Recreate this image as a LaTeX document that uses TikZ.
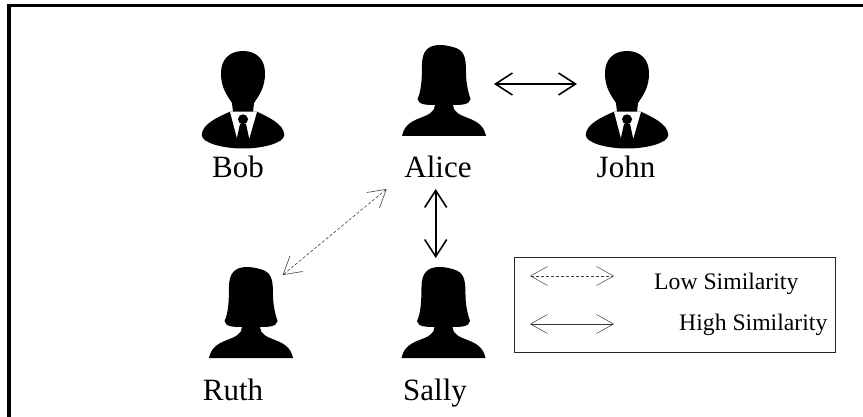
\documentclass[tikz,border=0pt]{standalone}
\usepackage{fontspec}
\setmainfont{Liberation Serif}
\usetikzlibrary{arrows.meta}

\tikzset{
  man/.pic = {
    \fill (0,-49) .. controls (14,-49) and (22,-40) .. (22,-27)
      .. controls (22,-13) and (17,-6) .. (11,3) -- (10,12) -- (-10,12) -- (-11,3)
      .. controls (-17,-6) and (-22,-13) .. (-22,-27)
      .. controls (-22,-40) and (-14,-49) .. (0,-49) -- cycle;
    \fill (-13,11.7) .. controls (-25,17) and (-41,24) .. (-41.3,35)
      .. controls (-41,43) and (-20,48.5) .. (0,48.5)
      .. controls (20,48.5) and (41,43) .. (41.3,35)
      .. controls (41,24) and (25,17) .. (14,11.7) -- cycle;
    \fill[white] (-13,11.7) -- (-5.7,39.5) -- (6,39.5) -- (14,11.7) -- cycle;
    \fill (0,19.3) circle (5);
    \fill (-3,24) -- (-6.5,40) -- (6.5,40) -- (3,24) -- cycle;
  },
  woman/.pic = {
    \fill (-42,36) -- (42,36) .. controls (40,27) and (35,22) .. (24,18)
      .. controls (16,15) and (9,12) .. (9,5)
      .. controls (16,5) and (26,5) .. (26.5,-1)
      .. controls (24,-8) and (22,-18) .. (22,-27)
      .. controls (22,-42) and (21,-50) .. (9,-53)
      .. controls (5,-54) and (1,-55) .. (-4,-55)
      .. controls (-16,-55) and (-22,-49) .. (-22,-35)
      .. controls (-22,-20) and (-23,-8) .. (-26.5,-1)
      .. controls (-26,5) and (-16,5) .. (-9,5)
      .. controls (-9,12) and (-16,15) .. (-24,18)
      .. controls (-35,22) and (-40,27) .. (-42,36) -- cycle;
  }
}

\begin{document}
\begin{tikzpicture}
  [
    x                  = 1pt,
    y                  = -1pt,
    personlabel/.style = {anchor=base, font=\fontsize{31}{31}\selectfont},
    legendtext/.style  = {anchor=base west, inner sep=0pt, font=\fontsize{23.7}{24}\selectfont},
    high/.style        = {line width=1.6pt, {Straight Barb[length=17pt,width=22pt]}-{Straight Barb[length=17pt,width=22pt]}},
    low/.style         = {line width=0.6pt, densely dashed, black!75, {Straight Barb[length=17pt,width=20pt,line width=0.6pt]}-{Straight Barb[length=17pt,width=20pt,line width=0.6pt]}},
    lowkey/.style      = {line width=0.5pt, densely dashed, black!75, {Straight Barb[length=17pt,width=19pt,line width=0.5pt]}-{Straight Barb[length=17pt,width=19pt,line width=0.5pt]}},
    highkey/.style     = {line width=0.6pt, black!80, {Straight Barb[length=17pt,width=19pt,line width=0.5pt]}-{Straight Barb[length=17pt,width=19pt,line width=0.5pt]}}
  ]
  \useasboundingbox (0,0) rectangle (863,417);
  \draw[line width=3.8pt] (8.6,417) -- (8.6,5.6) -- (863,5.6);

  \pic (bob)   at (243,100) {man};
  \pic (john)  at (627,100) {man};
  \pic (alice) at (444,100) {woman};
  \pic (ruth)  at (251,322) {woman};
  \pic (sally) at (443.5,322) {woman};

  \node[personlabel] (boblabel)   at (238,178) {Bob};
  \node[personlabel] (alicelabel) at (438,178) {Alice};
  \node[personlabel] (johnlabel)  at (626,178) {John};
  \node[personlabel] (ruthlabel)  at (233,400) {Ruth};
  \node[personlabel] (sallylabel) at (435,400) {Sally};

  \coordinate (aliceE) at (494,84);
  \coordinate (johnW)  at (577,84);
  \coordinate (aliceS) at (435.7,189);
  \coordinate (sallyN) at (435.7,258);
  \coordinate (aliceW) at (386.7,189);
  \coordinate (ruthE)  at (282.7,275);

  \draw[high] (aliceE) -- (johnW);
  \draw[high] (aliceS) -- (sallyN);
  \draw[low]  (aliceW) -- (ruthE);

  \draw[line width=1pt, black!85] (514,257) rectangle (835,352);
  \coordinate (lowA)  at (530,276);
  \coordinate (lowB)  at (614,276);
  \coordinate (highA) at (530,324);
  \coordinate (highB) at (614,324);
  \draw[lowkey]  (lowA) -- (lowB);
  \draw[highkey] (highA) -- (highB);
  \node[legendtext] (lowlabel)  at (654,289) {Low Similarity};
  \node[legendtext] (highlabel) at (679,330) {High Similarity};
\end{tikzpicture}
\end{document}
